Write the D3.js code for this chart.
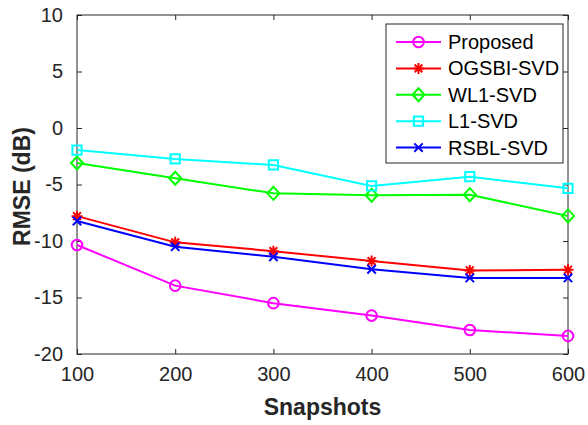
<!DOCTYPE html>
<html>
<head>
<meta charset="utf-8">
<script src="https://cdn.jsdelivr.net/npm/d3@7"></script>
<style>
  body { margin: 0; background: #fff; }
  svg { display: block; font-family: "Liberation Sans", Arial, sans-serif; }
</style>
</head>
<body>
<div id="chart"></div>
<script>
// frame size
const FRAME_WIDTH = 588;
const FRAME_HEIGHT = 425;
const MARGINS = {left: 77, right: 20, top: 15, bottom: 71};

const VIS_WIDTH = FRAME_WIDTH - MARGINS.left - MARGINS.right;
const VIS_HEIGHT = FRAME_HEIGHT - MARGINS.top - MARGINS.bottom;

// data
const snapshots = [100, 200, 300, 400, 500, 600];
const proposed = [-10.35, -13.95, -15.5, -16.6, -17.88, -18.4];
const ogsbi = [-7.8, -10.12, -10.9, -11.78, -12.6, -12.55];
const wl1 = [-3.1, -4.45, -5.78, -5.95, -5.9, -7.78];
const l1 = [-1.95, -2.74, -3.27, -5.13, -4.31, -5.34];
const rsbl = [-8.23, -10.5, -11.4, -12.5, -13.27, -13.27];

const xTicks = [100, 200, 300, 400, 500, 600];
const yTicks = [-20, -15, -10, -5, 0, 5, 10];

const seriesNames = ["Proposed", "OGSBI-SVD", "WL1-SVD", "L1-SVD", "RSBL-SVD"];
const seriesValues = [proposed, ogsbi, wl1, l1, rsbl];
const seriesColors = ["#ff00ff", "#ff0000", "#00ff00", "#00ffff", "#0000ff"];
const seriesMarkers = ["circle", "asterisk", "diamond", "square", "cross"];

const AXIS_COLOR = "#262626";

const FRAME = d3.select("#chart")
  .append("svg")
    .attr("width", FRAME_WIDTH)
    .attr("height", FRAME_HEIGHT);

const x = d3.scaleLinear()
  .domain([100, 600])
  .range([MARGINS.left, MARGINS.left + VIS_WIDTH]);

const y = d3.scaleLinear()
  .domain([-20, 10])
  .range([MARGINS.top + VIS_HEIGHT, MARGINS.top]);

// marker path around 0,0
function markerPath(kind) {
  if (kind === "circle") {
    const r = 5.3;
    return `M${-r},0A${r},${r} 0 1,0 ${r},0A${r},${r} 0 1,0 ${-r},0Z`;
  }
  if (kind === "square") {
    const s = 4.6;
    return `M${-s},${-s}H${s}V${s}H${-s}Z`;
  }
  if (kind === "diamond") {
    const w = 6, h = 6.5;
    return `M0,${-h}L${w},0L0,${h}L${-w},0Z`;
  }
  if (kind === "asterisk") {
    const s = 5.5, d = 3.9;
    return `M0,${-s}V${s}M${-s},0H${s}M${-d},${-d}L${d},${d}M${-d},${d}L${d},${-d}`;
  }
  // cross
  const c = 4.2;
  return `M${-c},${-c}L${c},${c}M${-c},${c}L${c},${-c}`;
}

// axes box
const yTop = MARGINS.top, yBot = MARGINS.top + VIS_HEIGHT;
const xLeft = MARGINS.left, xRight = MARGINS.left + VIS_WIDTH;
const plainFormat = d => String(d);

FRAME.append("g")
    .attr("transform", "translate(0," + yBot + ")")
    .call(d3.axisBottom(x).tickValues(xTicks).tickFormat(plainFormat).tickSizeInner(-5).tickSizeOuter(0).tickPadding(13))
    .call(g => g.select(".domain").remove())
    .call(g => g.selectAll("line").attr("stroke", AXIS_COLOR))
    .call(g => g.selectAll("text").attr("fill", AXIS_COLOR).attr("font-size", 20).attr("font-family", null));

FRAME.append("g")
    .attr("transform", "translate(" + xLeft + ",0)")
    .call(d3.axisLeft(y).tickValues(yTicks).tickFormat(plainFormat).tickSizeInner(-5).tickSizeOuter(0).tickPadding(14))
    .call(g => g.select(".domain").remove())
    .call(g => g.selectAll("line").attr("stroke", AXIS_COLOR))
    .call(g => g.selectAll("text").attr("fill", AXIS_COLOR).attr("font-size", 20).attr("font-family", null));

FRAME.append("g")
    .attr("transform", "translate(0," + yTop + ")")
    .call(d3.axisTop(x).tickValues(xTicks).tickSizeInner(-5).tickSizeOuter(0).tickFormat(""))
    .call(g => g.select(".domain").remove())
    .call(g => g.selectAll("line").attr("stroke", AXIS_COLOR));

FRAME.append("g")
    .attr("transform", "translate(" + xRight + ",0)")
    .call(d3.axisRight(y).tickValues(yTicks).tickSizeInner(-5).tickSizeOuter(0).tickFormat(""))
    .call(g => g.select(".domain").remove())
    .call(g => g.selectAll("line").attr("stroke", AXIS_COLOR));

FRAME.append("rect")
    .attr("x", xLeft)
    .attr("y", yTop)
    .attr("width", VIS_WIDTH)
    .attr("height", VIS_HEIGHT)
    .attr("fill", "none")
    .attr("stroke", AXIS_COLOR)
    .attr("stroke-width", 1);

// axis labels
FRAME.append("text")
    .attr("x", (xLeft + xRight) / 2)
    .attr("y", 415)
    .attr("text-anchor", "middle")
    .attr("font-size", 23)
    .attr("font-weight", "bold")
    .attr("fill", AXIS_COLOR)
    .text("Snapshots");

FRAME.append("text")
    .attr("transform", "translate(30," + ((yTop + yBot) / 2 + 2) + ") rotate(-90)")
    .attr("text-anchor", "middle")
    .attr("font-size", 23)
    .attr("font-weight", "bold")
    .attr("fill", AXIS_COLOR)
    .text("RMSE (dB)");

// lines and markers
const line = d3.line()
  .x((d, i) => x(snapshots[i]))
  .y(d => y(d));

seriesValues.forEach((vals, k) => {
  FRAME.append("path")
      .datum(vals)
      .attr("fill", "none")
      .attr("stroke", seriesColors[k])
      .attr("stroke-width", 2)
      .attr("d", line);

  FRAME.append("g")
    .selectAll("path")
    .data(vals)
    .enter()
    .append("path")
      .attr("transform", (d, i) => "translate(" + x(snapshots[i]) + "," + y(d) + ")")
      .attr("d", markerPath(seriesMarkers[k]))
      .attr("fill", "none")
      .attr("stroke", seriesColors[k])
      .attr("stroke-width", 2);
});

// legend
const LEGEND = FRAME.append("g").attr("transform", "translate(386,24)");

LEGEND.append("rect")
    .attr("width", 177)
    .attr("height", 139)
    .attr("fill", "#fff")
    .attr("stroke", AXIS_COLOR)
    .attr("stroke-width", 1);

const rows = LEGEND.selectAll("g.row")
  .data(seriesNames)
  .enter()
  .append("g")
    .attr("class", "row")
    .attr("transform", (d, i) => "translate(0," + (18 + i * 26.4) + ")");

rows.append("line")
    .attr("x1", 10)
    .attr("x2", 55)
    .attr("stroke", (d, i) => seriesColors[i])
    .attr("stroke-width", 2);

rows.append("path")
    .attr("transform", "translate(32.5,0)")
    .attr("d", (d, i) => markerPath(seriesMarkers[i]))
    .attr("fill", "none")
    .attr("stroke", (d, i) => seriesColors[i])
    .attr("stroke-width", 2);

rows.append("text")
    .attr("x", 62)
    .attr("dy", "0.35em")
    .attr("font-size", 20)
    .attr("fill", "#000")
    .text(d => d);
</script>
</body>
</html>
